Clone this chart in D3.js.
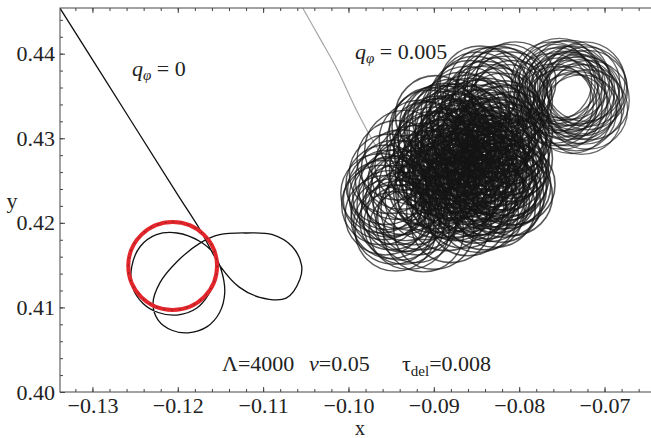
<!DOCTYPE html>
<html>
<head>
<meta charset="utf-8">
<script src="https://cdn.jsdelivr.net/npm/d3@7"></script>
<style>
  body { margin: 0; background: #fff; }
  text { font-family: "Liberation Serif", "Times New Roman", serif; fill: #222; }
</style>
</head>
<body>
<svg width="651" height="438"></svg>
<script>
// axis ranges and ticks
var xDomain = [-0.1338, -0.0635];
var yDomain = [0.40, 0.4454];
var xTicks = [-0.13, -0.12, -0.11, -0.10, -0.09, -0.08, -0.07];
var yTicks = [0.40, 0.41, 0.42, 0.43, 0.44];

// q_phi = 0 trajectory (black)
var q0Path = [
  [-0.1345, 0.4465], [-0.1255, 0.4321], [-0.1200, 0.4233], [-0.1174, 0.4192],
  [-0.1149, 0.4147], [-0.1128, 0.4124], [-0.1104, 0.4112], [-0.1073, 0.4111],
  [-0.1057, 0.4133], [-0.1055, 0.4150], [-0.1066, 0.4172], [-0.1089, 0.4186],
  [-0.1119, 0.4188], [-0.1151, 0.4186], [-0.1174, 0.4176], [-0.1201, 0.4154],
  [-0.1221, 0.4129], [-0.1229, 0.4105], [-0.1223, 0.4085], [-0.1207, 0.4073],
  [-0.1188, 0.4070], [-0.1166, 0.4077], [-0.1151, 0.4094], [-0.1145, 0.4117],
  [-0.1149, 0.4144], [-0.1159, 0.4165], [-0.1174, 0.4178], [-0.1201, 0.4188],
  [-0.1225, 0.4186], [-0.1244, 0.4172], [-0.1254, 0.4148], [-0.1253, 0.4124],
  [-0.1241, 0.4105], [-0.1223, 0.4094], [-0.1201, 0.4091], [-0.1178, 0.4099],
  [-0.1163, 0.4117], [-0.1154, 0.4139]
];

// limit cycle (red)
var limitCycle = { cx: -0.1206, cy: 0.4149, r: 0.0052 };

// q_phi = 0.005 : incoming part (grey)
var q5Approach = [
  [-0.1057, 0.4460], [-0.1034, 0.4419], [-0.1013, 0.4381],
  [-0.0991, 0.4334], [-0.0972, 0.4298], [-0.0958, 0.4275]
];

// q_phi = 0.005 : gyration centres of the orbit loops
var gyroRadius = 0.0047;
var loopsRight = [
  [-0.0762, 0.4367], [-0.0753, 0.4371], [-0.0741, 0.4369], [-0.0729, 0.4364],
  [-0.0720, 0.4357], [-0.0718, 0.4345], [-0.0720, 0.4334], [-0.0727, 0.4328],
  [-0.0739, 0.4329], [-0.0750, 0.4334], [-0.0760, 0.4341], [-0.0763, 0.4353],
  [-0.0755, 0.4360], [-0.0746, 0.4362], [-0.0735, 0.4357], [-0.0726, 0.4350],
  [-0.0732, 0.4341], [-0.0743, 0.4338], [-0.0753, 0.4348], [-0.0723, 0.4367],
  [-0.0736, 0.4349], [-0.0747, 0.4353], [-0.0758, 0.4364], [-0.0750, 0.4356],
  [-0.0744, 0.4345], [-0.0738, 0.4362], [-0.0730, 0.4352], [-0.0724, 0.4340],
  [-0.0733, 0.4332], [-0.0756, 0.4338], [-0.0749, 0.4368], [-0.0721, 0.4361],
  [-0.0741, 0.4355], [-0.0729, 0.4346]
];
var loopsUpper = [
  [-0.0868, 0.4331], [-0.0858, 0.4345], [-0.0849, 0.4355], [-0.0837, 0.4360],
  [-0.0825, 0.4362], [-0.0814, 0.4364], [-0.0804, 0.4367], [-0.0830, 0.4348],
  [-0.0844, 0.4338], [-0.0817, 0.4350], [-0.0858, 0.4324], [-0.0835, 0.4331],
  [-0.0809, 0.4355], [-0.0875, 0.4317], [-0.0823, 0.4336], [-0.0852, 0.4350],
  [-0.0840, 0.4344], [-0.0828, 0.4356], [-0.0818, 0.4360], [-0.0808, 0.4345],
  [-0.0846, 0.4362], [-0.0833, 0.4340], [-0.0862, 0.4338], [-0.0812, 0.4340],
  [-0.0820, 0.4330]
];
var loopsCore = [
  [-0.0905, 0.4310], [-0.0895, 0.4300], [-0.0885, 0.4315], [-0.0875, 0.4305],
  [-0.0865, 0.4295], [-0.0855, 0.4310], [-0.0845, 0.4300], [-0.0835, 0.4290],
  [-0.0825, 0.4305], [-0.0815, 0.4295], [-0.0900, 0.4285], [-0.0890, 0.4275],
  [-0.0880, 0.4288], [-0.0870, 0.4278], [-0.0860, 0.4270], [-0.0850, 0.4282],
  [-0.0840, 0.4272], [-0.0830, 0.4280], [-0.0820, 0.4268], [-0.0812, 0.4280],
  [-0.0905, 0.4262], [-0.0893, 0.4255], [-0.0882, 0.4265], [-0.0872, 0.4252],
  [-0.0862, 0.4245], [-0.0852, 0.4258], [-0.0842, 0.4248], [-0.0832, 0.4258],
  [-0.0822, 0.4248], [-0.0812, 0.4255], [-0.0898, 0.4240], [-0.0885, 0.4235],
  [-0.0875, 0.4230], [-0.0862, 0.4225], [-0.0850, 0.4232], [-0.0838, 0.4228],
  [-0.0826, 0.4235], [-0.0815, 0.4240], [-0.0868, 0.4318], [-0.0848, 0.4322],
  [-0.0828, 0.4318], [-0.0878, 0.4250], [-0.0858, 0.4262], [-0.0838, 0.4265],
  [-0.0868, 0.4285], [-0.0805, 0.4245], [-0.0808, 0.4232], [-0.0841, 0.4215],
  [-0.0860, 0.4208], [-0.0880, 0.4200], [-0.0900, 0.4192],
  [-0.0898, 0.4327], [-0.0878, 0.4323], [-0.0858, 0.4328], [-0.0838, 0.4324],
  [-0.0818, 0.4321], [-0.0902, 0.4313], [-0.0882, 0.4309], [-0.0862, 0.4315],
  [-0.0842, 0.4311], [-0.0822, 0.4314], [-0.0808, 0.4308], [-0.0908, 0.4296],
  [-0.0888, 0.4301], [-0.0868, 0.4297], [-0.0848, 0.4294], [-0.0828, 0.4299],
  [-0.0810, 0.4293], [-0.0895, 0.4283], [-0.0875, 0.4287], [-0.0855, 0.4281],
  [-0.0835, 0.4286], [-0.0818, 0.4283], [-0.0910, 0.4271], [-0.0890, 0.4268],
  [-0.0870, 0.4273], [-0.0850, 0.4269], [-0.0830, 0.4266], [-0.0812, 0.4272],
  [-0.0898, 0.4257], [-0.0878, 0.4260], [-0.0858, 0.4254], [-0.0838, 0.4258],
  [-0.0818, 0.4253], [-0.0906, 0.4243], [-0.0886, 0.4246], [-0.0866, 0.4240],
  [-0.0846, 0.4244], [-0.0826, 0.4239], [-0.0810, 0.4244], [-0.0895, 0.4229],
  [-0.0875, 0.4226], [-0.0855, 0.4231], [-0.0835, 0.4225], [-0.0818, 0.4230],
  [-0.0885, 0.4214], [-0.0865, 0.4217], [-0.0848, 0.4212], [-0.0828, 0.4218],
  [-0.0888, 0.4318], [-0.0868, 0.4306], [-0.0848, 0.4316], [-0.0828, 0.4307],
  [-0.0812, 0.4316], [-0.0895, 0.4303], [-0.0875, 0.4292], [-0.0855, 0.4302],
  [-0.0835, 0.4296], [-0.0815, 0.4302], [-0.0900, 0.4290], [-0.0880, 0.4279],
  [-0.0860, 0.4289], [-0.0840, 0.4280], [-0.0820, 0.4290], [-0.0885, 0.4275],
  [-0.0865, 0.4264], [-0.0845, 0.4276], [-0.0825, 0.4262], [-0.0808, 0.4276],
  [-0.0895, 0.4263], [-0.0875, 0.4258], [-0.0855, 0.4266], [-0.0835, 0.4251],
  [-0.0815, 0.4262], [-0.0890, 0.4249], [-0.0870, 0.4237], [-0.0850, 0.4250],
  [-0.0830, 0.4242], [-0.0814, 0.4250], [-0.0900, 0.4235], [-0.0880, 0.4228],
  [-0.0860, 0.4236], [-0.0840, 0.4233], [-0.0822, 0.4224],
  [-0.0872, 0.4299], [-0.0852, 0.4291], [-0.0832, 0.4301], [-0.0862, 0.4279],
  [-0.0842, 0.4286], [-0.0822, 0.4277], [-0.0878, 0.4269], [-0.0858, 0.4274],
  [-0.0838, 0.4271], [-0.0868, 0.4259], [-0.0848, 0.4262], [-0.0828, 0.4255],
  [-0.0882, 0.4252], [-0.0862, 0.4248], [-0.0842, 0.4240], [-0.0852, 0.4223]
];
var loopsLower = [
  [-0.0959, 0.4227], [-0.0954, 0.4239], [-0.0950, 0.4215], [-0.0945, 0.4251],
  [-0.0940, 0.4203], [-0.0936, 0.4233], [-0.0929, 0.4192], [-0.0924, 0.4221],
  [-0.0917, 0.4245], [-0.0957, 0.4209], [-0.0947, 0.4198], [-0.0938, 0.4263],
  [-0.0926, 0.4257], [-0.0919, 0.4209], [-0.0912, 0.4189], [-0.0952, 0.4230],
  [-0.0943, 0.4221], [-0.0931, 0.4213], [-0.0910, 0.4227], [-0.0961, 0.4221],
  [-0.0934, 0.4286], [-0.0917, 0.4298], [-0.0893, 0.4316], [-0.0943, 0.4274],
  [-0.0905, 0.4280], [-0.0956, 0.4245], [-0.0948, 0.4232], [-0.0941, 0.4240],
  [-0.0933, 0.4226], [-0.0927, 0.4238], [-0.0921, 0.4200], [-0.0950, 0.4205],
  [-0.0938, 0.4213], [-0.0962, 0.4235], [-0.0915, 0.4215], [-0.0945, 0.4190],
  [-0.0930, 0.4250], [-0.0952, 0.4258], [-0.0922, 0.4268], [-0.0935, 0.4198]
];

var svg = d3.select("svg");
var plotL = 60, plotR = 660, plotT = 8, plotB = 392;

var xScale = d3.scaleLinear().domain(xDomain).range([plotL, plotR]);
var yScale = d3.scaleLinear().domain(yDomain).range([plotB, plotT]);

svg.append("rect").attr("width", 651).attr("height", 438).attr("fill", "#fff");

svg.append("clipPath").attr("id", "plotClip")
  .append("rect").attr("x", plotL).attr("y", plotT)
  .attr("width", plotR - plotL).attr("height", plotB - plotT);

var plot = svg.append("g").attr("clip-path", "url(#plotClip)");

var line = d3.line()
  .x(function(d){ return xScale(d[0]); })
  .y(function(d){ return yScale(d[1]); })
  .curve(d3.curveCatmullRom.alpha(0.5));

// grey approach of q=0.005
plot.append("path").datum(q5Approach)
  .attr("d", line)
  .attr("fill", "none").attr("stroke", "#a8a8a8").attr("stroke-width", 1.2);

// loops of q=0.005
var drawLoops = function(loops, width, opacity)
{
  plot.append("g").selectAll("ellipse").data(loops).enter().append("ellipse")
    .attr("cx", function(d){ return xScale(d[0]); })
    .attr("cy", function(d){ return yScale(d[1]); })
    .attr("rx", function(d){ return xScale(d[0] + gyroRadius) - xScale(d[0]); })
    .attr("ry", function(d){ return yScale(d[1]) - yScale(d[1] + gyroRadius); })
    .attr("fill", "none")
    .attr("stroke", "#151515")
    .attr("stroke-opacity", opacity)
    .attr("stroke-width", width);
};
drawLoops(loopsRight, 1.3, 0.65);
drawLoops(loopsUpper, 1.4, 0.7);
drawLoops(loopsLower, 1.4, 0.72);
drawLoops(loopsCore, 1.6, 0.72);

// q=0 trajectory
plot.append("path").datum(q0Path)
  .attr("d", line)
  .attr("fill", "none").attr("stroke", "#111").attr("stroke-width", 1.3);

// red limit cycle with dashed black overlay
var lcRx = xScale(limitCycle.cx + limitCycle.r) - xScale(limitCycle.cx);
var lcRy = yScale(limitCycle.cy) - yScale(limitCycle.cy + limitCycle.r);
plot.append("ellipse")
  .attr("cx", xScale(limitCycle.cx)).attr("cy", yScale(limitCycle.cy))
  .attr("rx", lcRx).attr("ry", lcRy)
  .attr("fill", "none").attr("stroke", "#e3262b").attr("stroke-width", 4);
plot.append("ellipse")
  .attr("cx", xScale(limitCycle.cx)).attr("cy", yScale(limitCycle.cy))
  .attr("rx", lcRx).attr("ry", lcRy)
  .attr("fill", "none").attr("stroke", "#222").attr("stroke-width", 0.8)
  .attr("stroke-dasharray", "1.2,6.5");

// frame
svg.append("rect")
  .attr("x", plotL).attr("y", plotT)
  .attr("width", plotR - plotL).attr("height", plotB - plotT)
  .attr("fill", "none").attr("stroke", "#444").attr("stroke-width", 1);

var xMinor = d3.range(-0.132, -0.0635, 0.002).map(function(v){ return +v.toFixed(3); });
var yMinor = d3.range(0.402, 0.4454, 0.002).map(function(v){ return +v.toFixed(3); });

var styleAxis = function(g)
{
  g.select(".domain").remove();
  g.selectAll(".tick line").attr("stroke", "#444");
  g.selectAll(".tick text")
    .style("font-family", "'Liberation Serif', serif")
    .style("font-size", "22px").attr("fill", "#222");
};

// bottom axis
svg.append("g").attr("transform", "translate(0," + plotB + ")")
  .call(d3.axisBottom(xScale).tickValues(xTicks).tickFormat(d3.format(".2f"))
    .tickSizeInner(-5).tickSizeOuter(0).tickPadding(5))
  .call(styleAxis);
svg.append("g").attr("transform", "translate(0," + plotB + ")")
  .call(d3.axisBottom(xScale).tickValues(xMinor).tickFormat("")
    .tickSizeInner(-3).tickSizeOuter(0))
  .call(styleAxis);

// top axis (ticks only)
svg.append("g").attr("transform", "translate(0," + plotT + ")")
  .call(d3.axisTop(xScale).tickValues(xTicks).tickFormat("")
    .tickSizeInner(-5).tickSizeOuter(0))
  .call(styleAxis);
svg.append("g").attr("transform", "translate(0," + plotT + ")")
  .call(d3.axisTop(xScale).tickValues(xMinor).tickFormat("")
    .tickSizeInner(-3).tickSizeOuter(0))
  .call(styleAxis);

// left axis
svg.append("g").attr("transform", "translate(" + plotL + ",0)")
  .call(d3.axisLeft(yScale).tickValues(yTicks).tickFormat(d3.format(".2f"))
    .tickSizeInner(-5).tickSizeOuter(0).tickPadding(5))
  .call(styleAxis);
svg.append("g").attr("transform", "translate(" + plotL + ",0)")
  .call(d3.axisLeft(yScale).tickValues(yMinor).tickFormat("")
    .tickSizeInner(-3).tickSizeOuter(0))
  .call(styleAxis);

// axis titles
svg.append("text").attr("x", (plotL + plotR) / 2).attr("y", 435)
  .attr("text-anchor", "middle").style("font-size", "20px").text("x");
svg.append("text").attr("x", 12).attr("y", 208)
  .attr("text-anchor", "middle").style("font-size", "22px").text("y");

// curve labels
var qLabel = function(x, y, value)
{
  var t = svg.append("text").attr("x", x).attr("y", y).style("font-size", "22px");
  t.append("tspan").style("font-style", "italic").text("q");
  t.append("tspan").style("font-style", "italic").style("font-size", "15px")
    .attr("dy", 4).text("\u03c6");
  t.append("tspan").attr("dy", -4).text(" = " + value);
};
qLabel(132, 76, "0");
qLabel(355, 59, "0.005");

// parameter annotation
svg.append("text").attr("x", 222).attr("y", 371).style("font-size", "22px").text("\u039b=4000");
var vText = svg.append("text").attr("x", 309).attr("y", 371).style("font-size", "22px");
vText.append("tspan").style("font-style", "italic").text("v");
vText.append("tspan").text("=0.05");
var tauText = svg.append("text").attr("x", 402).attr("y", 371).style("font-size", "22px");
tauText.append("tspan").text("\u03c4");
tauText.append("tspan").style("font-size", "15px").attr("dy", 5).text("del");
tauText.append("tspan").attr("dy", -5).text("=0.008");
</script>
</body>
</html>
